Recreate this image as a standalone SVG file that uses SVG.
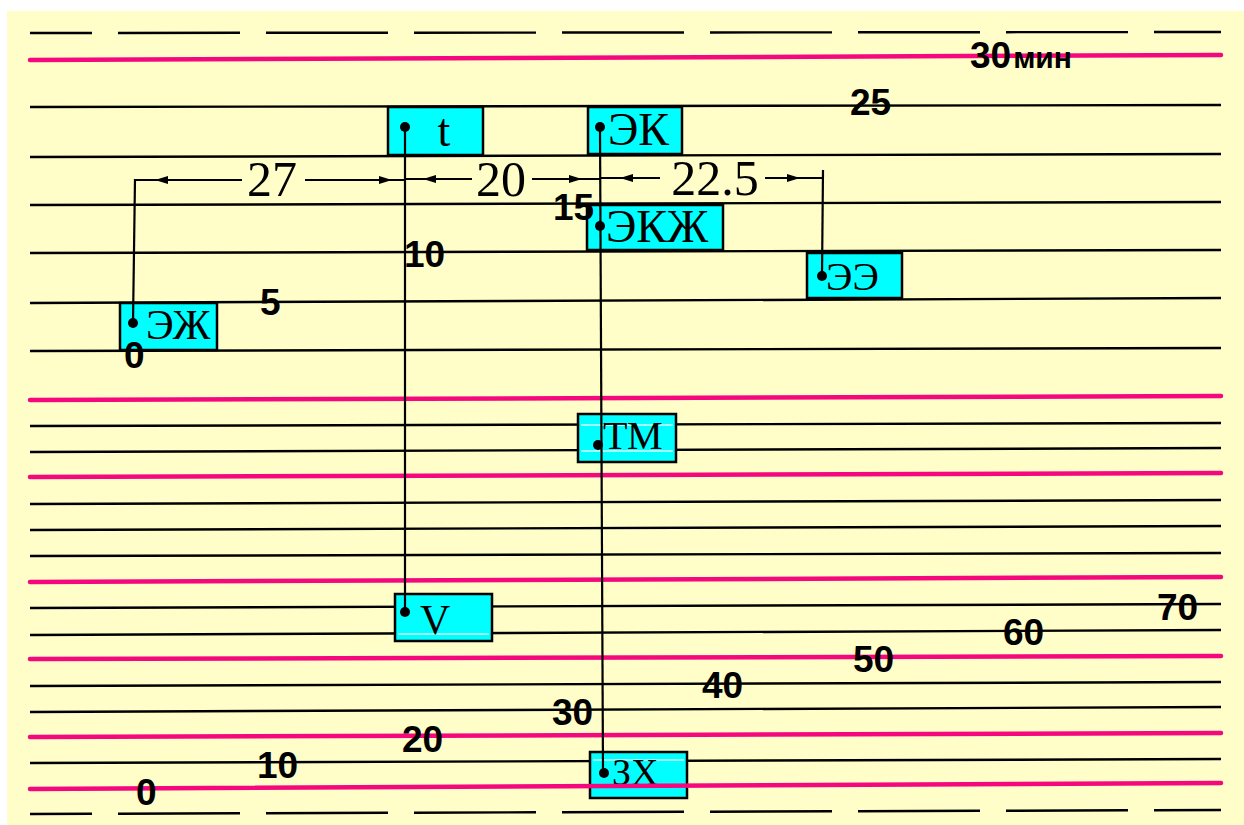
<svg xmlns="http://www.w3.org/2000/svg" width="1244" height="825" viewBox="0 0 1244 825">
<defs>
<style>
.grid{stroke:#000;stroke-width:2.4;fill:none}
.pink{stroke:#F5087E;stroke-width:4.5;fill:none;stroke-linecap:round}
.dash{stroke:#000;stroke-width:2.4;fill:none;stroke-dasharray:122 26;stroke-dashoffset:60}
.box{fill:#00FFFF;stroke:#000;stroke-width:2.5}
.dot{fill:#000}
.conn{stroke:#000;stroke-width:2.2;fill:none}
.lbl{font-family:"Liberation Serif","Times New Roman",serif;fill:#000}
.num{font-family:"Liberation Sans",Arial,sans-serif;font-weight:bold;font-size:37px;fill:#000}
.dim{font-family:"Liberation Serif","Times New Roman",serif;font-size:50px;fill:#000}
.sheen{stroke:#D8FFFF;stroke-width:1.5}
</style>
</defs>
<rect x="0" y="0" width="1244" height="825" fill="#fff"/>
<rect x="7" y="11" width="1237" height="814" fill="#FFFDC8"/>

<g id="grid">
<line class="dash" x1="30" y1="33" x2="1221" y2="32"/>
<line class="grid" x1="30" y1="107" x2="1221" y2="105"/>
<line class="grid" x1="30" y1="157" x2="1221" y2="154"/>
<line class="grid" x1="30" y1="205" x2="1221" y2="202"/>
<line class="grid" x1="30" y1="253" x2="1221" y2="250"/>
<line class="grid" x1="30" y1="303" x2="1221" y2="298"/>
<line class="grid" x1="30" y1="351" x2="1221" y2="348"/>
<line class="grid" x1="30" y1="426" x2="1221" y2="423"/>
<line class="grid" x1="30" y1="452" x2="1221" y2="448"/>
<line class="grid" x1="30" y1="504" x2="1221" y2="500"/>
<line class="grid" x1="30" y1="530" x2="1221" y2="526"/>
<line class="grid" x1="30" y1="556" x2="1221" y2="553"/>
<line class="grid" x1="30" y1="608" x2="1221" y2="604"/>
<line class="grid" x1="30" y1="635" x2="1221" y2="630"/>
<line class="grid" x1="30" y1="686" x2="1221" y2="682"/>
<line class="grid" x1="30" y1="712" x2="1221" y2="707"/>
<line class="grid" x1="30" y1="763" x2="1221" y2="759"/>
<line class="dash" x1="30" y1="814" x2="1221" y2="810"/>
</g>

<g id="node-t">
<rect class="box" x="388" y="107" width="95" height="48"/>
<text class="lbl" x="444" y="146" font-size="46" text-anchor="middle">t</text>
<circle class="dot" cx="405" cy="127" r="5"/>
</g>
<g id="node-EK">
<rect class="box" x="588" y="107" width="94" height="47"/>
<text class="lbl" x="608" y="145" font-size="46">ЭК</text>
<circle class="dot" cx="600" cy="127" r="5"/>
</g>
<g id="node-EKZh">
<rect class="box" x="587" y="205" width="136" height="45"/>
<text class="lbl" x="606" y="242" font-size="46">ЭКЖ</text>
<circle class="dot" cx="600" cy="226" r="5"/>
</g>
<g id="node-EE">
<rect class="box" x="807" y="253" width="95" height="45"/>
<text class="lbl" x="826" y="290" font-size="40">ЭЭ</text>
<circle class="dot" cx="822" cy="276" r="5"/>
</g>
<g id="node-EZh">
<rect class="box" x="120" y="303" width="97" height="47"/>
<text class="lbl" x="146" y="339" font-size="42">ЭЖ</text>
<circle class="dot" cx="133" cy="323" r="5"/>
</g>
<g id="node-TM">
<rect class="box" x="578" y="414" width="98" height="48"/>
<line class="sheen" x1="581" y1="425" x2="673" y2="425"/>
<line class="sheen" x1="581" y1="451" x2="673" y2="451"/>
<text class="lbl" x="603" y="449" font-size="40">ТМ</text>
<circle class="dot" cx="598" cy="445" r="5"/>
</g>
<g id="node-V">
<rect class="box" x="395" y="594" width="97" height="47"/>
<line class="sheen" x1="398" y1="634" x2="489" y2="634"/>
<text class="lbl" x="420" y="634" font-size="42">V</text>
<circle class="dot" cx="405" cy="612" r="5"/>
</g>
<g id="node-ZX">
<rect class="box" x="590" y="752" width="97" height="46"/>
<line class="sheen" x1="593" y1="760" x2="684" y2="760"/>
<text class="lbl" x="612" y="785" font-size="38">ЗХ</text>
<circle class="dot" cx="604" cy="773" r="5"/>
</g>

<g id="pink-lines">
<line class="pink" x1="30" y1="60" x2="1221" y2="55"/>
<line class="pink" x1="30" y1="400" x2="1221" y2="396"/>
<line class="pink" x1="30" y1="477" x2="1221" y2="473"/>
<line class="pink" x1="30" y1="582" x2="1221" y2="577"/>
<line class="pink" x1="30" y1="659" x2="1221" y2="656"/>
<line class="pink" x1="30" y1="737" x2="1221" y2="733"/>
<line class="pink" x1="30" y1="789" x2="1221" y2="783"/>
</g>

<g id="connectors">
<line class="conn" x1="405" y1="127" x2="405" y2="612"/>
<line class="conn" x1="600" y1="127" x2="603" y2="773"/>
<line class="conn" x1="133" y1="323" x2="135" y2="179"/>
<line class="conn" x1="822" y1="276" x2="823" y2="170"/>
<line class="conn" x1="134" y1="180" x2="242" y2="180"/>
<line class="conn" x1="305" y1="180" x2="405" y2="180"/>
<line class="conn" x1="405" y1="179" x2="472" y2="179"/>
<line class="conn" x1="532" y1="179" x2="600" y2="179"/>
<line class="conn" x1="600" y1="178" x2="660" y2="178"/>
<line class="conn" x1="765" y1="178" x2="823" y2="178"/>
<polygon class="dot" points="155,180 168,176 168,184"/>
<polygon class="dot" points="392,180 379,176 379,184"/>
<polygon class="dot" points="423,179 436,175 436,183"/>
<polygon class="dot" points="582,179 569,175 569,183"/>
<polygon class="dot" points="620,178 633,174 633,182"/>
<polygon class="dot" points="800,178 787,174 787,182"/>
<text class="dim" x="272" y="196" text-anchor="middle">27</text>
<text class="dim" x="501" y="196" text-anchor="middle">20</text>
<text class="dim" x="715" y="195" text-anchor="middle">22.5</text>
</g>

<g id="scale-labels">
<text class="num" x="970" y="68">30<tspan font-size="30" dx="2">мин</tspan></text>
<text class="num" x="850" y="115">25</text>
<text class="num" x="553" y="220">15</text>
<text class="num" x="404" y="267">10</text>
<text class="num" x="260" y="315">5</text>
<text class="num" x="124" y="368">0</text>
<text class="num" x="136" y="805">0</text>
<text class="num" x="257" y="778">10</text>
<text class="num" x="402" y="752">20</text>
<text class="num" x="552" y="725">30</text>
<text class="num" x="702" y="698">40</text>
<text class="num" x="853" y="672">50</text>
<text class="num" x="1003" y="645">60</text>
<text class="num" x="1157" y="620">70</text>
</g>
</svg>
